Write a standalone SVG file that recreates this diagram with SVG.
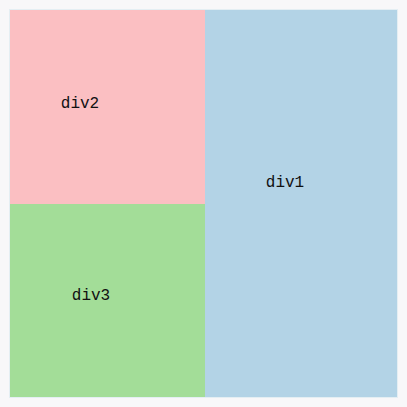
<svg xmlns="http://www.w3.org/2000/svg" width="407" height="407" viewBox="0 0 407 407">
<style>
text{font-family:"Liberation Mono","DejaVu Sans Mono",monospace;font-size:16px;fill:#111;text-anchor:middle;dominant-baseline:central}
</style>
<rect width="407" height="407" fill="#f8f7f9"/>
<rect x="9.5" y="9.5" width="388" height="388" fill="none" stroke="#e4eef3" stroke-width="1"/>
<g id="div1"><rect x="205" y="10" width="192" height="387" fill="#b3d3e6"/><text x="285" y="183">div1</text></g>
<g id="div2"><rect x="10" y="10" width="195" height="194" fill="#fbbfc2"/><text x="80" y="104">div2</text></g>
<g id="div3"><rect x="10" y="204" width="195" height="193" fill="#a3dd98"/><text x="91" y="296">div3</text></g>
<g id="connectors"/>
</svg>
